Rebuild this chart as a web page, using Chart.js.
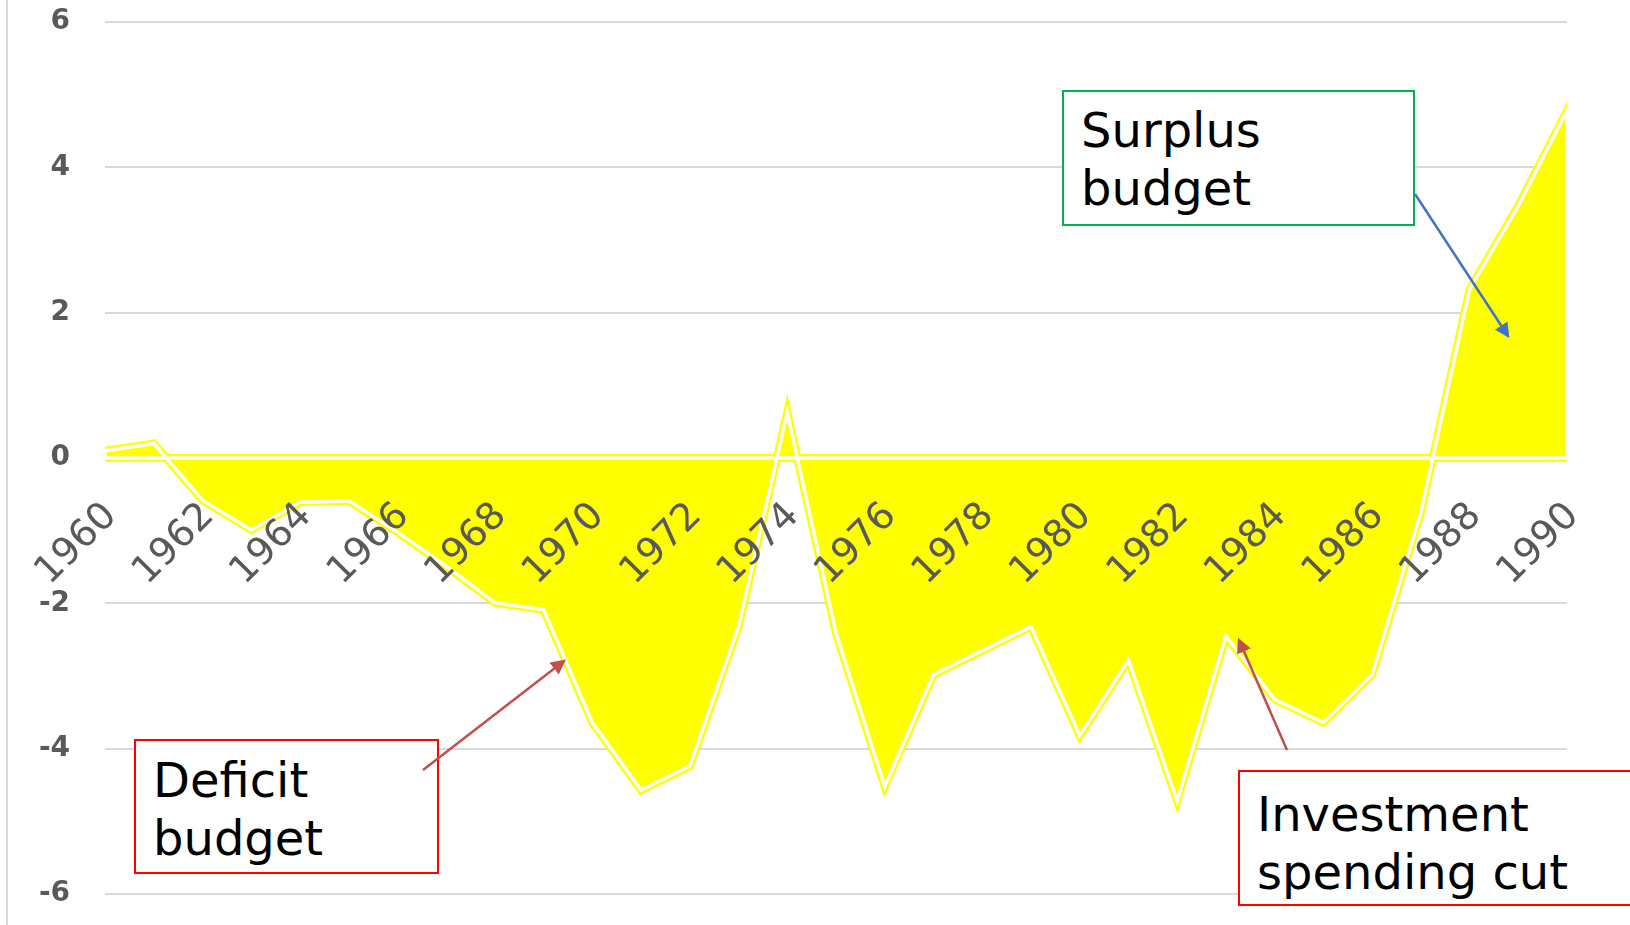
<!DOCTYPE html>
<html>
<head>
<meta charset="utf-8">
<script src="https://cdn.jsdelivr.net/npm/chart.js@4.4.1/dist/chart.umd.min.js"></script>
<style>
  body { margin: 0; background: #fff; }
  #wrap { position: relative; width: 1630px; height: 925px; overflow: hidden; border-left: 2px solid #D9D9D9; box-sizing: border-box; left: 6px; }
  #wrap canvas { position: absolute; left: -8px; top: 0; }
  .note { position: absolute; box-sizing: border-box; border: 2px solid; background: #fff;
          font-family: "DejaVu Sans", Verdana, sans-serif; font-size: 48px; line-height: 1.2; color: #000;
          padding-left: 17px; }
  #arrows { position: absolute; left: -8px; top: 0; pointer-events: none; }
</style>
</head>
<body>
<div id="wrap">
  <canvas id="myChart" width="1630" height="925"></canvas>
  <div class="note" style="left:1054px; top:90px; width:353px; height:136px; border-color:#00B050; padding-top:10px;">Surplus<br>budget</div>
  <div class="note" style="left:126px; top:739px; width:305px; height:135px; border-color:#FF0000; padding-top:11px;">Deficit<br>budget</div>
  <div class="note" style="left:1230px; top:770px; width:420px; height:136px; border-color:#FF0000; padding-top:14px;">Investment<br>spending cut</div>
  <svg id="arrows" width="1630" height="925">
    <defs>
      <marker id="headBlue" markerWidth="6" markerHeight="6" refX="5" refY="3" orient="auto" markerUnits="strokeWidth">
        <path d="M0,0 L6,3 L0,6 z" fill="#4472C4"></path>
      </marker>
      <marker id="headRed" markerWidth="6" markerHeight="6" refX="5" refY="3" orient="auto" markerUnits="strokeWidth">
        <path d="M0,0 L6,3 L0,6 z" fill="#C0504D"></path>
      </marker>
    </defs>
    <line x1="1415" y1="194" x2="1508" y2="336" stroke="#4472C4" stroke-width="2.5" marker-end="url(#headBlue)"></line>
    <line x1="423" y1="770" x2="564" y2="661" stroke="#C0504D" stroke-width="2.5" marker-end="url(#headRed)"></line>
    <line x1="1287" y1="750" x2="1239" y2="640" stroke="#C0504D" stroke-width="2.5" marker-end="url(#headRed)"></line>
  </svg>
</div>
<script>
// budget balance, % of GDP
const years = [1960, 1961, 1962, 1963, 1964, 1965, 1966, 1967, 1968, 1969,
               1970, 1971, 1972, 1973, 1974, 1975, 1976, 1977, 1978, 1979,
               1980, 1981, 1982, 1983, 1984, 1985, 1986, 1987, 1988, 1989, 1990];
const balance = [0.1, 0.2, -0.58, -0.99, -0.61, -0.59, -1.02, -1.49, -1.99, -2.09,
                 -3.64, -4.57, -4.24, -2.32, 0.63, -2.41, -4.52, -2.98, -2.65, -2.32,
                 -3.82, -2.78, -4.72, -2.45, -3.32, -3.64, -2.98, -0.75, 2.32, 3.47, 4.78];
const xTickYears = [1960, 1962, 1964, 1966, 1968, 1970, 1972, 1974, 1976, 1978,
                    1980, 1982, 1984, 1986, 1988, 1990];
const yTicks = [-6, -4, -2, 0, 2, 4, 6];

Chart.defaults.font.family = '"DejaVu Sans", Verdana, sans-serif';

// area series points
var areaPoints = balance.map((v, i) => ({ x: years[i], y: v }));

// outline goes round the whole area shape, back along the zero line
var outlinePoints = areaPoints.slice();
outlinePoints.push({ x: years[years.length - 1], y: 0 });
outlinePoints.push({ x: years[0], y: 0 });
outlinePoints.push({ x: years[0], y: balance[0] });

const config = {
    type: 'line',
    data: {
        datasets: [
            {
                label: 'fill',
                data: areaPoints,
                fill: 'origin',
                backgroundColor: '#FFFF00',
                borderWidth: 0,
                pointRadius: 0,
                order: 3
            },
            {
                label: 'outer',
                data: outlinePoints,
                fill: false,
                borderColor: '#FFFF00',
                borderWidth: 8,
                pointRadius: 0,
                order: 2
            },
            {
                label: 'inner',
                data: outlinePoints,
                fill: false,
                borderColor: '#FFFFFF',
                borderWidth: 3.5,
                pointRadius: 0,
                order: 1
            }
        ]
    },
    options: {
        responsive: false,
        animation: false,
        layout: { padding: { top: 22, bottom: 31, right: 63, left: 0 } },
        plugins: { legend: { display: false }, tooltip: { enabled: false } },
        scales: {
            x: {
                type: 'linear',
                position: { y: 0 },
                min: years[0],
                max: years[years.length - 1],
                // invisible tick marks push the labels down from the zero line
                grid: { display: true, drawOnChartArea: false, drawTicks: true, tickLength: 36, tickColor: 'rgba(0,0,0,0)' },
                border: { display: false },
                ticks: {
                    z: 1, // labels sit on top of the yellow area
                    stepSize: 2,
                    autoSkip: false,
                    minRotation: 45,
                    maxRotation: 45,
                    padding: 0,
                    labelOffset: 6,
                    color: '#595959',
                    font: { size: 38 },
                    callback: (v) => xTickYears.includes(v) ? String(v) : ''
                }
            },
            y: {
                min: yTicks[0],
                max: yTicks[yTicks.length - 1],
                grid: { color: '#D9D9D9', lineWidth: 2, drawTicks: true, tickLength: 35, tickColor: 'rgba(0,0,0,0)' },
                border: { display: false },
                ticks: {
                    stepSize: 2,
                    padding: 0,
                    color: '#595959',
                    font: { size: 28, weight: 'bold' }
                },
                afterFit: (scale) => { scale.width = 105; }
            }
        }
    }
};

var myChart = new Chart(document.getElementById('myChart'), config);
</script>
</body>
</html>
